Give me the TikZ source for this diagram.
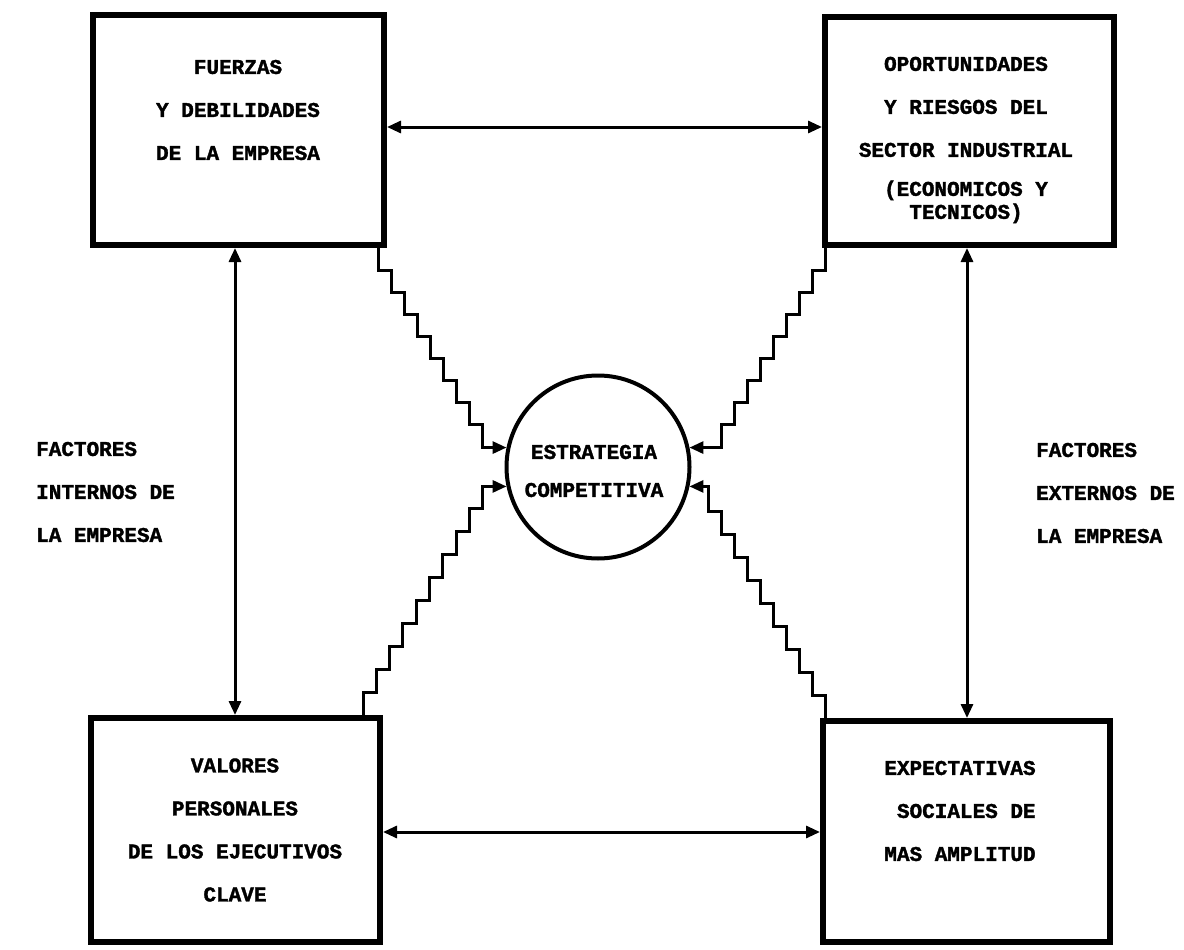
\documentclass[tikz,border=0pt]{standalone}
\usepackage{fontspec}
\setmonofont{Liberation Mono}[BoldFeatures={FakeBold=1.6}]
\usetikzlibrary{arrows.meta}
\begin{document}
\begin{tikzpicture}[x=1pt,y=-1pt,
 box/.style={draw,line width=6pt,rectangle,inner sep=0pt},
 conn/.style={line width=3pt,line join=miter},
 tip/.style={-{Triangle[length=14pt,width=12pt]}},
 dbl/.style={conn,{Triangle[length=14pt,width=12pt]}-{Triangle[length=14pt,width=12pt]}},
 lbl/.style={font=\ttfamily\bfseries\fontsize{21}{43}\selectfont,align=center,inner sep=0pt}]
\useasboundingbox[fill=white] (0,0) rectangle (1184,950);

% boxes
\node[box,minimum width=291pt,minimum height=230pt] (TL) at (238.5,130) {};
\node[box,minimum width=289pt,minimum height=228pt] (TR) at (969.5,131) {};
\node[box,minimum width=289pt,minimum height=224pt] (BL) at (235.5,830) {};
\node[box,minimum width=287pt,minimum height=221pt] (BR) at (966.5,831.5) {};
\node[draw,circle,line width=4pt,minimum size=183pt,inner sep=0pt] (C) at (598,467) {};

% texts
\node[lbl] (tTL) at (238,110) {FUERZAS\\Y DEBILIDADES\\DE LA EMPRESA};
\node[lbl] (tTR) at (966,140) {OPORTUNIDADES\\Y RIESGOS DEL\\SECTOR INDUSTRIAL\\[-4pt](ECONOMICOS Y\\[-20pt]TECNICOS)};
\node[lbl,font=\ttfamily\bfseries\fontsize{21}{38}\selectfont] (tC) at (594,471) {ESTRATEGIA\\COMPETITIVA};
\node[lbl] (tBL) at (235,830) {VALORES\\PERSONALES\\DE LOS EJECUTIVOS\\CLAVE};
\node[lbl,align=right] (tBR) at (960,811) {EXPECTATIVAS\\SOCIALES DE\\MAS AMPLITUD};
\node[lbl,align=left,anchor=west] (tL) at (36,492) {FACTORES\\INTERNOS DE\\LA EMPRESA};
\node[lbl,align=left,anchor=west] (tR) at (1036,493) {FACTORES\\EXTERNOS DE\\LA EMPRESA};

% helper coordinates
\coordinate (vlx) at (235,0);
\coordinate (vrx) at (967,0);
\coordinate (hy1) at (0,127);
\coordinate (hy2) at (0,832);
\coordinate (s1x) at (378,0);
\coordinate (s2x) at (825,0);
\coordinate (s3x) at (363,0);
\coordinate (s4x) at (825,0);

% straight double arrows
\draw[dbl] (TL.east |- hy1) -- (TR.west |- hy1);
\draw[dbl] (BL.east |- hy2) -- (BR.west |- hy2);
\draw[dbl] (TL.south -| vlx) -- (BL.north -| vlx);
\draw[dbl] (TR.south -| vrx) -- (BR.north -| vrx);

% staircase connectors
\draw[conn,tip] (TL.south -| s1x) \foreach \i in {1,...,8}{ -- ++(0,22) -- ++(13,0)} |- (C.168);
\draw[conn,tip] (TR.south -| s2x) \foreach \i in {1,...,8}{ -- ++(0,22) -- ++(-13,0)} |- (C.12);
\draw[conn,tip] (BL.north -| s3x) \foreach \i in {1,...,9}{ -- ++(0,-23) -- ++(13.3,0)} |- (C.192);
\draw[conn,tip] (BR.north -| s4x) \foreach \i in {1,...,9}{ -- ++(0,-23) -- ++(-13,0)} |- (C.-12);
\end{tikzpicture}
\end{document}
